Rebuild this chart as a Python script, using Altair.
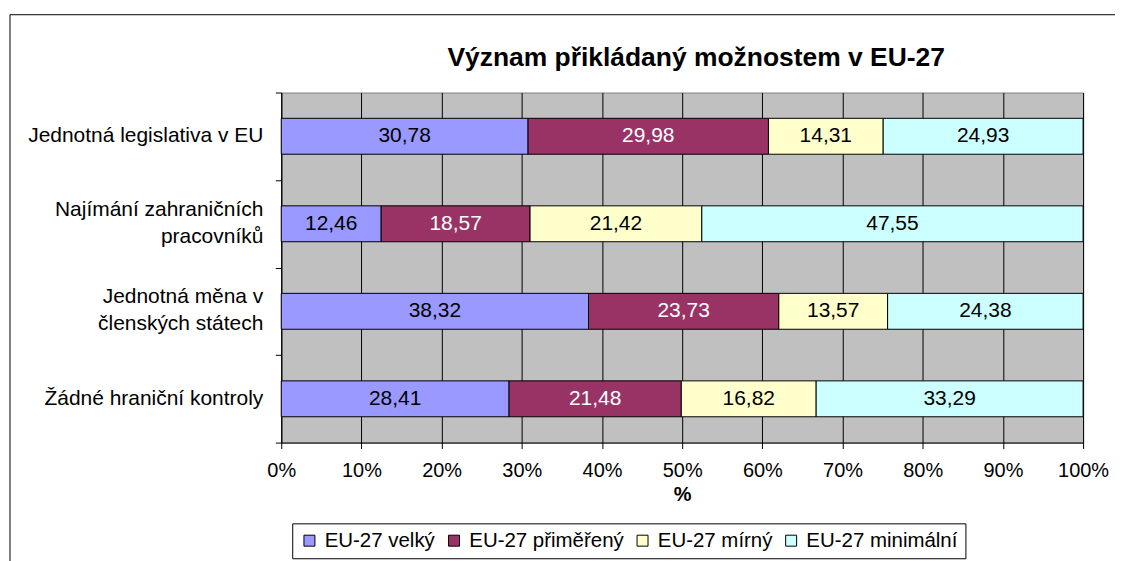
import altair as alt
import pandas as pd

categories = [
    "Jednotná legislativa v EU",
    "Najímání zahraničních pracovníků",
    "Jednotná měna v členských státech",
    "Žádné hraniční kontroly",
]
category_lines = [
    ["Jednotná legislativa v EU"],
    ["Najímání zahraničních", "pracovníků"],
    ["Jednotná měna v", "členských státech"],
    ["Žádné hraniční kontroly"],
]
series = ["EU-27 velký", "EU-27 přiměřený", "EU-27 mírný", "EU-27 minimální"]
velky = [30.78, 12.46, 38.32, 28.41]
primereny = [29.98, 18.57, 23.73, 21.48]
mirny = [14.31, 21.42, 13.57, 16.82]
minimalni = [24.93, 47.55, 24.38, 33.29]
colors = ["#9999FF", "#993366", "#FFFFCC", "#CCFFFF"]
label_colors = ["black", "white", "black", "black"]
x_ticks = [0, 0.1, 0.2, 0.3, 0.4, 0.5, 0.6, 0.7, 0.8, 0.9, 1.0]
chart_title = "Význam přikládaný možnostem v EU-27"

values_by_series = [velky, primereny, mirny, minimalni]
rows = []
for si, (s, vals) in enumerate(zip(series, values_by_series)):
    for ci, c in enumerate(categories):
        v = vals[ci]
        rows.append({
            "cat": c,
            "series": s,
            "value": v,
            "order": si,
            "label": f"{v:.2f}".replace(".", ","),
            "lblcolor": label_colors[si],
        })
df = pd.DataFrame(rows)

lab_rows = []
for c, lines in zip(categories, category_lines):
    for li, txt in enumerate(lines):
        kind = "single" if len(lines) == 1 else ("first" if li == 0 else "second")
        lab_rows.append({"cat": c, "txt": txt, "kind": kind})
lab_df = pd.DataFrame(lab_rows)

FONT = "Liberation Sans"

base = alt.Chart(df).transform_stack(
    stack="value",
    as_=["x0", "x1"],
    groupby=["cat"],
    sort=[alt.SortField("order", order="ascending")],
    offset="normalize",
).transform_calculate(mid="(datum.x0 + datum.x1) / 2")

yenc = alt.Y(
    "cat:N",
    sort=categories,
    scale=alt.Scale(paddingInner=0, paddingOuter=0),
    axis=alt.Axis(
        title=None,
        labels=False,
        tickBand="extent",
        tickSize=6,
        tickColor="black",
        domainColor="black",
        grid=False,
    ),
)

bars = base.mark_bar(size=36, stroke="black", strokeWidth=1).encode(
    y=yenc,
    x=alt.X(
        "x0:Q",
        scale=alt.Scale(domain=[0, 1], nice=False),
        axis=alt.Axis(
            title="%",
            format=".0%",
            values=x_ticks,
            labelFontSize=20,
            labelColor="black",
            labelPadding=12,
            labelFlush=False,
            tickSize=6,
            tickColor="black",
            domainColor="black",
            grid=True,
            gridColor="black",
            gridWidth=1,
            titleFontSize=20,
            titleFontWeight="bold",
            titleColor="black",
            titlePadding=4,
        ),
    ),
    x2="x1:Q",
    color=alt.Color(
        "series:N",
        scale=alt.Scale(domain=series, range=colors),
        legend=alt.Legend(
            title=None,
            orient="none",
            legendX=11,
            legendY=432,
            direction="horizontal",
            symbolType="square",
            symbolSize=121,
            symbolStrokeColor="black",
            symbolStrokeWidth=1,
            labelFontSize=20.5,
            labelColor="black",
            labelOffset=5,
            columnPadding=8,
            strokeColor="black",
            fillColor="white",
            padding=7,
        ),
    ),
    order=alt.Order("order:Q"),
)

texts = base.mark_text(fontSize=21, font=FONT).encode(
    y=alt.Y("cat:N", sort=categories),
    x=alt.X("mid:Q"),
    text="label:N",
    color=alt.Color("lblcolor:N", scale=None),
)

lab_base = alt.Chart(lab_df)
lab_layers = []
for kind, dy in [("single", 0), ("first", -14), ("second", 13)]:
    lab_layers.append(
        lab_base.transform_filter(alt.datum.kind == kind)
        .mark_text(fontSize=21, font=FONT, color="black", align="right",
                   baseline="middle", dy=dy)
        .encode(y=alt.Y("cat:N", sort=categories), x=alt.value(-18), text="txt:N")
    )

frame_data = alt.Data(values=[{"k": 1}])
top_rule = alt.Chart(frame_data).mark_rule(color="black", strokeWidth=1).encode(
    x=alt.value(-272), x2=alt.value(836), y=alt.value(-78)
)
left_rule = alt.Chart(frame_data).mark_rule(color="black", strokeWidth=1).encode(
    x=alt.value(-272), y=alt.value(-78), y2=alt.value(470)
)
title_text = alt.Chart(frame_data).mark_text(
    fontSize=26.5, fontWeight="bold", font=FONT, color="black",
    align="center", baseline="middle",
).encode(x=alt.value(416), y=alt.value(-35), text=alt.value(chart_title))

chart = alt.layer(bars, texts, *lab_layers, top_rule, left_rule, title_text).properties(
    width=804,
    height=351,
    padding={"left": 1, "top": 5, "right": 2, "bottom": 0},
).configure(font=FONT).configure_view(
    fill="#C0C0C0", stroke="#808080", strokeWidth=1
)

chart.save("out.html", embed_options={"renderer": "svg", "actions": False})
